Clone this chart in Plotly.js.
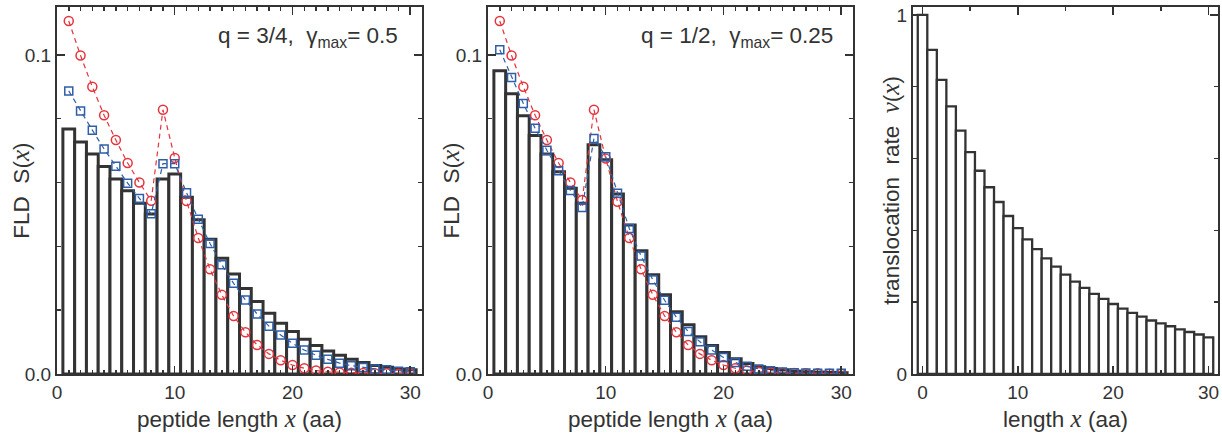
<!DOCTYPE html>
<html>
<head>
<meta charset="utf-8">
<script src="https://cdn.plot.ly/plotly-3.0.1.min.js"></script>
<style>html,body{margin:0;padding:0;background:#fff;}#chart{width:1222px;height:433px;}</style>
</head>
<body>
<div id="chart"></div>
<script>
// ---- data ----
var lengthsFLD = [1,2,3,4,5,6,7,8,9,10,11,12,13,14,15,16,17,18,19,20,21,22,23,24,25,26,27,28,29,30];
var lengthsRate = [0,1,2,3,4,5,6,7,8,9,10,11,12,13,14,15,16,17,18,19,20,21,22,23,24,25,26,27,28,29,30];

// Panel 1: q = 3/4, gamma_max = 0.5
var barsA = [0.0768,0.0727,0.0689,0.0650,0.0611,0.0574,0.0535,0.0501,0.0611,0.0627,0.0554,0.0483,0.0422,0.0363,0.0313,0.0268,0.0227,0.0190,0.0159,0.0133,0.0109,0.0089,0.0072,0.0059,0.0046,0.0036,0.0027,0.0021,0.0016,0.0013];
var blueA = [0.0887,0.0824,0.0764,0.0705,0.0651,0.0598,0.0550,0.0502,0.0659,0.0659,0.0568,0.0485,0.0409,0.0342,0.0284,0.0232,0.0188,0.0150,0.0122,0.0096,0.0075,0.0059,0.0046,0.0034,0.0026,0.0020,0.0016,0.0013,0.0009,0.0007];
var redA  = [0.1106,0.0998,0.0900,0.0811,0.0733,0.0661,0.0600,0.0543,0.0828,0.0677,0.0542,0.0426,0.0328,0.0248,0.0182,0.0131,0.0091,0.0063,0.0043,0.0028,0.0018,0.0011,0.0007,0.0005,0.0004,0.0003,0.0002,0.0002,0.0001,0.0001];

// Panel 2: q = 1/2, gamma_max = 0.25
var barsB = [0.0950,0.0878,0.0809,0.0747,0.0689,0.0634,0.0582,0.0535,0.0718,0.0671,0.0564,0.0467,0.0386,0.0311,0.0248,0.0195,0.0154,0.0117,0.0089,0.0067,0.0048,0.0033,0.0023,0.0017,0.0013,0.0009,0.0007,0.0006,0.0005,0.0004];
var blueB = [0.1016,0.0929,0.0848,0.0770,0.0701,0.0637,0.0575,0.0522,0.0738,0.0681,0.0566,0.0456,0.0370,0.0295,0.0231,0.0178,0.0133,0.0101,0.0075,0.0052,0.0036,0.0024,0.0016,0.0010,0.0006,0.0004,0.0003,0.0002,0.0002,0.0002];
var redB  = [0.1106,0.0998,0.0900,0.0811,0.0733,0.0661,0.0600,0.0545,0.0828,0.0675,0.0540,0.0426,0.0328,0.0248,0.0182,0.0131,0.0091,0.0063,0.0043,0.0028,0.0018,0.0011,0.0007,0.0005,0.0004,0.0003,0.0002,0.0002,0.0001,0.0001];

// Panel 3: translocation rate v(x)
var rate = [1.000,0.9025,0.819,0.745,0.678,0.618,0.566,0.520,0.479,0.440,0.406,0.375,0.348,0.322,0.299,0.277,0.257,0.240,0.223,0.209,0.195,0.182,0.170,0.160,0.149,0.141,0.133,0.124,0.117,0.110,0.102];

var labelA = 'q = 3/4,&nbsp; γ<sub>max</sub>= 0.5';
var labelB = 'q = 1/2,&nbsp; γ<sub>max</sub>= 0.25';

// ---- styles ----
var ink = '#333333';
var red = '#e5333d';
var blue = '#2f5ea8';
var sans = 'Liberation Sans, Arial, sans-serif';
var mathX = '<span style="font-family:Liberation Serif;font-size:25px"><i>x</i></span>';
var mathV = '<span style="font-family:Liberation Serif;font-size:25px"><i>v</i></span>';

function barTrace(x, y, xa, ya, lw) {
  return {type:'bar', x:x, y:y, xaxis:xa, yaxis:ya, width:1,
    marker:{color:'#ffffff', line:{color:ink, width:lw}}, hoverinfo:'x+y'};
}
function lineTrace(x, y, xa, ya, color, sym, size) {
  return {type:'scatter', mode:'lines+markers', x:x, y:y, xaxis:xa, yaxis:ya,
    line:{color:color, width:1.2, dash:'5px,4px'},
    marker:{symbol:sym, size:size, color:color, line:{color:color, width:1.5}}};
}

var traces = [
  barTrace(lengthsFLD, barsA, 'x', 'y', 3),
  lineTrace(lengthsFLD, redA, 'x', 'y', red, 'circle-open', 9),
  lineTrace(lengthsFLD, blueA, 'x', 'y', blue, 'square-open', 8),
  barTrace(lengthsFLD, barsB, 'x2', 'y2', 3),
  lineTrace(lengthsFLD, redB, 'x2', 'y2', red, 'circle-open', 9),
  lineTrace(lengthsFLD, blueB, 'x2', 'y2', blue, 'square-open', 8),
  barTrace(lengthsRate, rate, 'x3', 'y3', 2.3)
];

var tickFont = {family:sans, size:19, color:ink};
var titleFont = {family:sans, size:22.5, color:ink};

function xAxis(dom, range, anchor, dtick, mdtick, title) {
  return {domain:dom, range:range, anchor:anchor, showgrid:false, zeroline:false,
    showline:true, linecolor:ink, linewidth:2, mirror:'ticks',
    ticks:'inside', ticklen:8, tickwidth:1.5, tickcolor:ink, tick0:0, dtick:dtick,
    tickfont:tickFont, fixedrange:true,
    minor:{ticks:'inside', ticklen:4, tickwidth:1.5, tickcolor:ink, tick0:0, dtick:mdtick, showgrid:false},
    title:{text:title, font:titleFont, standoff:9}};
}
function yAxis(range, anchor, dtick, mdtick, fmt) {
  return {domain:[0,1], range:range, anchor:anchor, showgrid:false, zeroline:false,
    showline:true, linecolor:ink, linewidth:2, mirror:'ticks',
    ticks:'inside', ticklen:8, tickwidth:1.5, tickcolor:ink, tick0:0, dtick:dtick,
    tickformat:fmt, tickfont:tickFont, fixedrange:true,
    minor:{ticks:'inside', ticklen:4, tickwidth:1.5, tickcolor:ink, tick0:0, dtick:mdtick, showgrid:false}};
}
function yTitle(xref, yref, x, text) {
  return {xref:xref, yref:yref, x:x, y:0.5, xanchor:'center', yanchor:'middle', textangle:-90,
    text:text, showarrow:false, font:titleFont};
}

var W = 1222;
var layout = {
  width:W, height:433, paper_bgcolor:'#ffffff', plot_bgcolor:'#ffffff',
  margin:{l:0, r:0, t:7, b:59, autoexpand:false},
  showlegend:false, bargap:0, barmode:'overlay',
  font:{family:sans, color:ink},
  xaxis:  xAxis([57/W, 422/W], [0,31], 'y', 10, 1, 'peptide length ' + mathX + ' (aa)'),
  yaxis:  yAxis([0,0.115], 'x', 0.1, 0.02, '.1f'),
  xaxis2: xAxis([488/W, 853/W], [0,31], 'y2', 10, 1, 'peptide length ' + mathX + ' (aa)'),
  yaxis2: yAxis([0,0.115], 'x2', 0.1, 0.02, '.1f'),
  xaxis3: xAxis([913/W, 1218/W], [-1,31], 'y3', 10, 5, 'length ' + mathX + ' (aa)'),
  yaxis3: yAxis([0,1.022], 'x3', 1, 0.2, 'd'),
  annotations:[
    yTitle('x domain', 'y domain', -0.101, 'FLD&nbsp; S(' + mathX + ')'),
    yTitle('x2 domain', 'y2 domain', -0.104, 'FLD&nbsp; S(' + mathX + ')'),
    yTitle('x3 domain', 'y3 domain', -0.075, 'translocation&nbsp; rate&nbsp; ' + mathV + '(' + mathX + ')'),
    {xref:'x domain', yref:'y domain', x:0.94, y:0.918, xanchor:'right', yanchor:'middle',
     text:labelA, showarrow:false, font:{family:sans, size:22.5, color:ink}},
    {xref:'x2 domain', yref:'y2 domain', x:0.952, y:0.918, xanchor:'right', yanchor:'middle',
     text:labelB, showarrow:false, font:{family:sans, size:22.5, color:ink}}
  ]
};

Plotly.newPlot('chart', traces, layout, {displayModeBar:false, staticPlot:true});
</script>
</body>
</html>
